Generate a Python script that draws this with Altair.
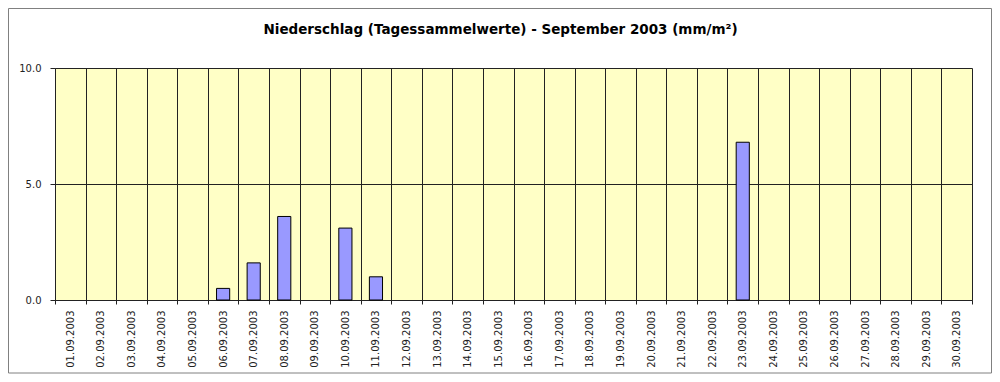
import altair as alt
import pandas as pd

dates = [f"{d:02d}.09.2003" for d in range(1, 31)]
values = [0, 0, 0, 0, 0, 0.5, 1.6, 3.6, 0, 3.1, 1.0, 0, 0, 0, 0, 0, 0, 0, 0, 0,
          0, 0, 6.8, 0, 0, 0, 0, 0, 0, 0]
y_ticks = [0, 5, 10]
title_text = "Niederschlag (Tagessammelwerte) - September 2003 (mm/m²)"

df = pd.DataFrame({"Datum": dates, "Wert": values})
FONT = "DejaVu Sans"
W, H = 917, 232

bars = alt.Chart(df).transform_filter("datum.Wert > 0").mark_bar(
    width=alt.RelativeBandSize(0.43), fill="#9999FF", stroke="#000000", strokeWidth=1
).encode(
    x=alt.X("Datum:N", sort=dates,
            scale=alt.Scale(domain=dates, paddingInner=0, paddingOuter=0),
            axis=alt.Axis(title=None, labelAngle=270, labelAlign="right", labelBaseline="middle",
                          labelFontSize=10, labelPadding=6, labelColor="#222222", labelFont=FONT,
                          tickBand="extent", grid=True, gridColor="#222222", gridWidth=1,
                          tickColor="#222222", tickSize=4, domainColor="#222222")),
    y=alt.Y("Wert:Q", scale=alt.Scale(domain=[0, 10], nice=False),
            axis=alt.Axis(title=None, values=y_ticks, format=".1f", labelFontSize=10,
                          labelColor="#222222", labelFont=FONT, labelPadding=9,
                          grid=True, gridColor="#222222", gridWidth=1,
                          tickColor="#222222", tickSize=5, domainColor="#222222")),
)

frame = alt.Chart(pd.DataFrame({"a": [0]})).mark_rect(
    fill="transparent", stroke="#808080", strokeWidth=1
).encode(
    x=alt.value(-46.5), x2=alt.value(936.5), y=alt.value(-59.5), y2=alt.value(305)
)

chart = alt.layer(frame, bars).properties(
    width=W, height=H,
    autosize=alt.AutoSizeParams(type="none"),
    padding={"left": 47, "top": 60, "right": 20, "bottom": 74},
    title=alt.TitleParams(title_text, font=FONT, fontSize=13.5, fontWeight="bold",
                          color="#000000", anchor="middle", frame="group", dx=-13, offset=-28),
).configure_view(fill="#FFFFC6", strokeOpacity=0)

chart.save("out.html", embed_options={"renderer": "svg", "actions": False})
